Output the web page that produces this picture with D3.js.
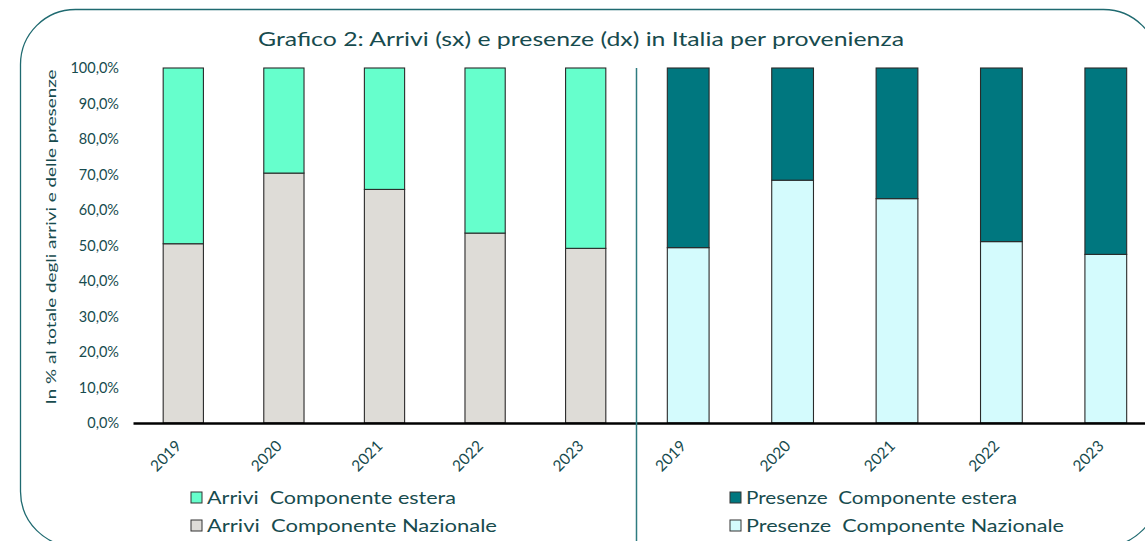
<!DOCTYPE html>
<html>
<head>
<meta charset="utf-8">
<script src="https://cdn.jsdelivr.net/npm/d3@7"></script>
<style>
  body { margin: 0; background: #fff; }
  svg { display: block; font-family: "Lato", "Noto Sans", sans-serif; }
</style>
</head>
<body>
<div id="chart"></div>
<script>
// dati (quote percentuali)
const years = ["2019", "2020", "2021", "2022", "2023"];
const arriviNazionale = [0.505, 0.704, 0.658, 0.535, 0.492];
const presenzeNazionale = [0.494, 0.684, 0.632, 0.511, 0.475];
const yTicks = [0, 0.1, 0.2, 0.3, 0.4, 0.5, 0.6, 0.7, 0.8, 0.9, 1.0];
const titleText = "Grafico 2: Arrivi (sx) e presenze (dx) in Italia per provenienza";
const yLabel = "In % al totale degli arrivi e delle presenze";
const legendLeft = ["Arrivi  Componente estera", "Arrivi  Componente Nazionale"];
const legendRight = ["Presenze  Componente estera", "Presenze  Componente Nazionale"];

const W = 1145, H = 541;
const textColor = "#174b4e";
const colors = {
  arriviEstera: "#66ffcc",
  arriviNaz: "#dedcd7",
  presenzeEstera: "#00777f",
  presenzeNaz: "#d4fbfd"
};

const svg = d3.select("#chart").append("svg")
  .attr("width", W).attr("height", H);

// cornice arrotondata
svg.append("rect")
  .attr("x", 20.5).attr("y", 9.5)
  .attr("width", 1138).attr("height", 537)
  .attr("rx", 55).attr("ry", 55)
  .attr("fill", "none")
  .attr("stroke", "#1f6a70")
  .attr("stroke-width", 1.3);

// titolo
svg.append("text")
  .attr("x", 581).attr("y", 46)
  .attr("text-anchor", "middle")
  .attr("fill", textColor)
  .style("font-size", "20px")
  .attr("textLength", 646)
  .attr("lengthAdjust", "spacingAndGlyphs")
  .text(titleText);

const pctFmt = d3.formatLocale({ decimal: ",", thousands: ".", grouping: [3], currency: ["", "€"] }).format(".1%");

const y = d3.scaleLinear().domain([0, 1]).range([423, 68]);

const xLeft = d3.scaleBand().domain(years).range([133, 636]).paddingInner(0.6).paddingOuter(0.3);
const xRight = d3.scaleBand().domain(years).range([636, 1158]).paddingInner(0.6).paddingOuter(0.3);

// asse y (solo etichette)
const yAxis = svg.append("g")
  .attr("transform", "translate(119,0)")
  .call(d3.axisLeft(y).tickValues(yTicks).tickFormat(pctFmt).tickSize(0).tickPadding(0));
yAxis.select(".domain").remove();
yAxis.selectAll("text")
  .attr("fill", textColor)
  .style("font-size", "14.5px")
  .style("font-family", "Lato, sans-serif");

svg.append("text")
  .attr("transform", "translate(56,237) rotate(-90)")
  .attr("text-anchor", "middle")
  .attr("fill", textColor)
  .style("font-size", "14px")
  .attr("textLength", 335)
  .attr("lengthAdjust", "spacingAndGlyphs")
  .text(yLabel);

function drawPanel(x, naz, colEstera, colNaz) {
  const g = svg.append("g");
  const rows = years.map((yr, i) => ({ year: yr, naz: naz[i] }));

  // parte nazionale (sotto)
  g.selectAll(".naz").data(rows).enter().append("rect")
    .attr("class", "naz")
    .attr("x", d => x(d.year))
    .attr("y", d => y(d.naz))
    .attr("width", x.bandwidth())
    .attr("height", d => y(0) - y(d.naz))
    .attr("fill", colNaz)
    .attr("stroke", "#2a2a2a")
    .attr("stroke-width", 1.1);

  // parte estera (sopra)
  g.selectAll(".est").data(rows).enter().append("rect")
    .attr("class", "est")
    .attr("x", d => x(d.year))
    .attr("y", y(1))
    .attr("width", x.bandwidth())
    .attr("height", d => y(d.naz) - y(1))
    .attr("fill", colEstera)
    .attr("stroke", "#2a2a2a")
    .attr("stroke-width", 1.1);

  // asse x
  const ax = g.append("g")
    .attr("transform", `translate(0,${y(0)})`)
    .call(d3.axisBottom(x).tickSize(0).tickPadding(0));
  ax.select(".domain").attr("stroke", "#000").attr("stroke-width", 2.5);
  ax.selectAll("text")
    .attr("fill", textColor)
    .style("font-size", "15.5px")
    .style("font-family", "Lato, sans-serif")
    .attr("text-anchor", "end")
    .attr("dy", null)
    .attr("y", null)
    .attr("transform", "translate(-1,24) rotate(-45)");
}

drawPanel(xLeft, arriviNazionale, colors.arriviEstera, colors.arriviNaz);
drawPanel(xRight, presenzeNazionale, colors.presenzeEstera, colors.presenzeNaz);

// linea divisoria
svg.append("line")
  .attr("x1", 636.5).attr("x2", 636.5)
  .attr("y1", 68).attr("y2", H)
  .attr("stroke", "#2e7b80")
  .attr("stroke-width", 1.5);

function drawLegend(x0, labels, cols, widths) {
  const rowsY = [498, 526];
  labels.forEach((lab, i) => {
    svg.append("rect")
      .attr("x", x0).attr("y", rowsY[i] - 6)
      .attr("width", 11).attr("height", 11)
      .attr("fill", cols[i])
      .attr("stroke", "#333")
      .attr("stroke-width", 1);
    svg.append("text")
      .attr("x", x0 + 16).attr("y", rowsY[i] + 6)
      .attr("fill", textColor)
      .style("font-size", "17px")
      .style("white-space", "pre")
      .attr("textLength", widths[i])
      .attr("lengthAdjust", "spacingAndGlyphs")
      .text(lab);
  });
}

drawLegend(191, legendLeft, [colors.arriviEstera, colors.arriviNaz], [249, 290]);
drawLegend(730, legendRight, [colors.presenzeEstera, colors.presenzeNaz], [271, 318]);
</script>
</body>
</html>
